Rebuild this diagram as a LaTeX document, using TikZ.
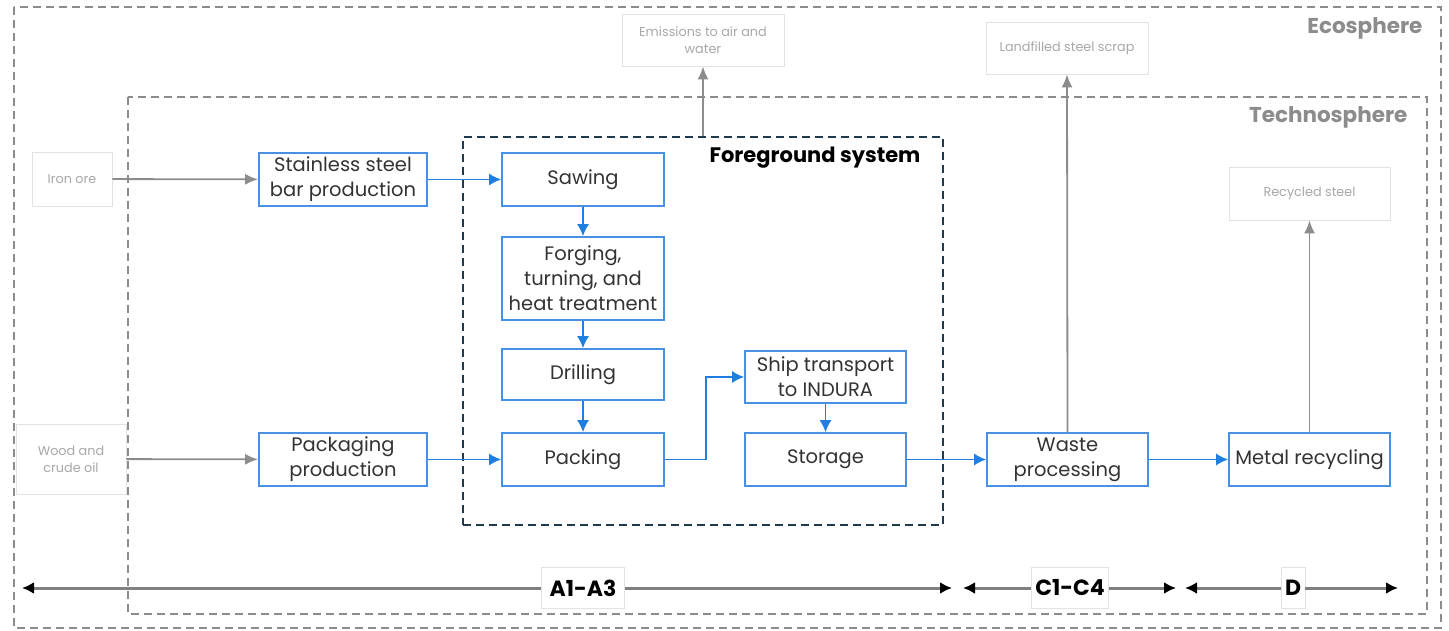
\documentclass[tikz,border=0pt]{standalone}
\usepackage{fontspec}
\setmainfont{Poppins}
\usetikzlibrary{arrows.meta}
\definecolor{boxblue}{HTML}{4A90E2}
\definecolor{arrblue}{HTML}{1E7FE0}
\definecolor{dgray}{HTML}{8C8C8C}
\definecolor{lgray}{HTML}{E2E2E2}
\definecolor{ltext}{HTML}{A8A8A8}
\definecolor{fgline}{HTML}{1E3A4C}
\definecolor{txt}{HTML}{333333}
\tikzset{
  proc/.style={draw=boxblue, line width=1.7pt, fill=white, align=center, inner sep=1pt,
    font=\fontsize{19.5}{25}\selectfont, text=txt},
  ext/.style={draw=lgray, line width=0.8pt, fill=white, align=center, inner sep=2pt,
    font=\fontsize{12.8}{17}\selectfont, text=ltext},
  bflow/.style={draw=arrblue, line width=1.5pt, -{Latex[length=12pt,width=12pt]}},
  gflow/.style={draw=dgray, line width=1.8pt, -{Latex[length=13pt,width=11pt]}},
  phase/.style={draw=black!50, line width=3pt, -{Latex[length=12pt,width=12pt,fill=black,color=black]}},
  phaselab/.style={draw=lgray, line width=0.6pt, fill=white, font=\bfseries\fontsize{22}{26}\selectfont, text=black, inner sep=4pt, minimum height=41pt},
  sphere/.style={draw=dgray, line width=1.9pt, dash pattern=on 8pt off 5pt},
  spherelab/.style={anchor=east, font=\bfseries\fontsize{21.5}{24}\selectfont, text=dgray},
}
\begin{document}
\begin{tikzpicture}[x=1pt,y=-1pt]
\useasboundingbox (0,0) rectangle (1449,631);
% spheres
\draw[sphere] (14,7) rectangle (1441,628);
\draw[sphere] (128,97) rectangle (1427,614);
\node[spherelab] (eco) at (1426,28) {Ecosphere};
\node[spherelab] (tech) at (1411,117) {Technosphere};
% foreground system
\node[draw=fgline, line width=2pt, dash pattern=on 8pt off 5pt, minimum width=480pt, minimum height=388pt, inner sep=0pt] (fg) at (703,331) {};
\node[anchor=east, font=\bfseries\fontsize{21}{24}\selectfont, text=black] (fglab) at (924,158) {Foreground system};
% external flows
\node[ext, minimum width=80pt, minimum height=54pt] (iron) at (72,179) {Iron ore};
\node[ext, minimum width=110pt, minimum height=70pt] (wood) at (71,459) {Wood and\\crude oil};
\node[ext, minimum width=162pt, minimum height=52pt] (emis) at (703,40) {Emissions to air and\\water};
\node[ext, minimum width=162pt, minimum height=52pt] (land) at (1067,48) {Landfilled steel scrap};
\node[ext, minimum width=161pt, minimum height=53pt] (recy) at (1309.5,193.5) {Recycled steel};
% processes
\node[proc, minimum width=168pt, minimum height=53pt] (steel) at (343,179.5) {Stainless steel\\bar production};
\node[proc, minimum width=162pt, minimum height=53pt] (saw) at (583,179.5) {Sawing};
\node[proc, minimum width=162pt, minimum height=83pt] (forge) at (583,278.5) {Forging,\\turning, and\\heat treatment};
\node[proc, minimum width=162pt, minimum height=51pt] (drill) at (583,374.5) {Drilling};
\node[proc, minimum width=162pt, minimum height=53pt] (pack) at (583,459.5) {Packing};
\node[proc, minimum width=168pt, minimum height=53pt] (pkgp) at (343,459.5) {Packaging\\production};
\node[proc, minimum width=161pt, minimum height=52pt] (ship) at (825.5,377) {Ship transport\\to INDURA};
\node[proc, minimum width=161pt, minimum height=53pt] (stor) at (825.5,459.5) {Storage};
\node[proc, minimum width=161pt, minimum height=53pt] (waste) at (1067.5,459.5) {Waste\\processing};
\node[proc, minimum width=161pt, minimum height=53pt] (metal) at (1309.5,459.5) {Metal recycling};
% flows
\draw[gflow] (iron) -- (steel);
\draw[gflow] (wood) -- (pkgp);
\draw[bflow] (steel) -- (saw);
\draw[bflow] (saw) -- (forge);
\draw[bflow] (forge) -- (drill);
\draw[bflow] (drill) -- (pack);
\draw[bflow] (pkgp) -- (pack);
\draw[bflow] (pack.east) -- ++(41,0) |- (ship.west);
\draw[bflow] (ship) -- (stor);
\draw[bflow] (stor) -- (waste);
\draw[bflow] (waste) -- (metal);
\draw[gflow] (fg.north -| emis.south) -- (emis.south);
\draw[gflow] (waste.north) -- (land.south);
\draw[gflow] (metal.north) -- (recy.south);
% phases
\coordinate (a1l) at (22,588);
\coordinate (a1r) at (952,588);
\coordinate (c1l) at (963,588);
\coordinate (c1r) at (1176,588);
\coordinate (dl) at (1185,588);
\coordinate (dr) at (1398,588);
\node[phaselab, minimum width=83pt] (a1) at (583,588) {A1-A3};
\node[phaselab, minimum width=58pt] (c1) at (1070,588) {C1-C4};
\node[phaselab, minimum width=22pt] (dd) at (1293,588) {D};
\draw[phase] (a1.west) -- (a1l);
\draw[phase] (a1.east) -- (a1r);
\draw[phase] (c1.west) -- (c1l);
\draw[phase] (c1.east) -- (c1r);
\draw[phase] (dd.west) -- (dl);
\draw[phase] (dd.east) -- (dr);
\end{tikzpicture}
\end{document}
